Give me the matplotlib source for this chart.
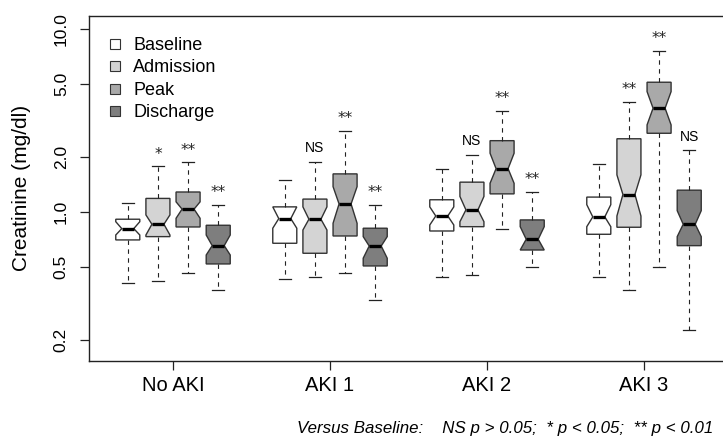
import numpy as np
import matplotlib.pyplot as plt
from matplotlib.lines import Line2D

plt.rcParams['font.family'] = ['Liberation Sans', 'DejaVu Sans']

groups = ["No AKI", "AKI 1", "AKI 2", "AKI 3"]
series = ["Baseline", "Admission", "Peak", "Discharge"]
fills = ["#ffffff", "#d4d4d4", "#a9a9a9", "#7e7e7e"]

# rows = groups, columns = series, creatinine in mg/dl
whishi = [[1.13, 1.78, 1.87, 1.10],
          [1.50, 1.89, 2.79, 1.10],
          [1.72, 2.06, 3.58, 1.29],
          [1.84, 4.01, 7.64, 2.18]]
q3 = [[0.916, 1.19, 1.29, 0.849],
      [1.07, 1.18, 1.62, 0.818],
      [1.17, 1.46, 2.46, 0.908],
      [1.21, 2.52, 5.13, 1.32]]
cihi = [[0.888, 0.967, 1.14, 0.751],
        [1.07, 1.07, 1.38, 0.736],
        [1.07, 1.22, 2.10, 0.834],
        [1.10, 1.60, 4.56, 1.02]]
med = [[0.814, 0.860, 1.04, 0.657],
       [0.923, 0.916, 1.11, 0.654],
       [0.954, 1.03, 1.73, 0.712],
       [0.943, 1.25, 3.70, 0.860]]
cilo = [[0.751, 0.751, 0.927, 0.584],
        [0.818, 0.800, 0.871, 0.561],
        [0.852, 0.888, 1.44, 0.622],
        [0.834, 0.954, 3.00, 0.736]]
q1 = [[0.706, 0.736, 0.831, 0.522],
      [0.677, 0.597, 0.742, 0.509],
      [0.790, 0.834, 1.26, 0.622],
      [0.758, 0.828, 2.70, 0.657]]
whislo = [[0.409, 0.421, 0.466, 0.376],
          [0.430, 0.445, 0.468, 0.332],
          [0.443, 0.454, 0.807, 0.500],
          [0.445, 0.376, 0.504, 0.228]]

# significance versus baseline (None for the baseline box itself)
signif = [[None, "*", "**", "**"],
          [None, "NS", "**", "**"],
          [None, "NS", "**", "**"],
          [None, "**", "**", "NS"]]

yticks = [0.2, 0.5, 1.0, 2.0, 5.0, 10.0]
ytick_labels = ["0.2", "0.5", "1.0", "2.0", "5.0", "10.0"]

# ============================================================
# BUILD BOX STATS
# ============================================================

step = 0.192
stats = []
positions = []
colors = []
for g in range(len(groups)):
    for s in range(len(series)):
        stats.append(dict(med=med[g][s], q1=q1[g][s], q3=q3[g][s],
                          whislo=whislo[g][s], whishi=whishi[g][s],
                          cilo=cilo[g][s], cihi=cihi[g][s], fliers=[]))
        positions.append(g + 1 + (s - 1.5) * step)
        colors.append(fills[s])

# ============================================================
# PLOT
# ============================================================

fig = plt.figure(figsize=(7.23, 4.40), dpi=100)
ax = fig.add_axes([89 / 723, 79 / 440, 639 / 723, 345 / 440])

edge = "#333333"
bp = ax.bxp(stats, positions=positions, widths=0.153, shownotches=True,
            patch_artist=True, showfliers=False,
            boxprops=dict(edgecolor=edge, linewidth=1.0),
            medianprops=dict(color="black", linewidth=2.4,
                             solid_capstyle="butt"),
            whiskerprops=dict(color="#222222", linewidth=0.8,
                              linestyle=(0, (4, 4))),
            capprops=dict(color="#222222", linewidth=0.9))

for patch, c in zip(bp["boxes"], colors):
    patch.set_facecolor(c)

ax.set_yscale("log")
ax.set_ylim(0.154, 11.8)
ax.set_xlim(0.465, 4.535)
ax.yaxis.set_minor_locator(plt.NullLocator())
ax.set_yticks(yticks)
ax.set_yticklabels(ytick_labels, rotation=90, va="center", fontsize=12.5)
ax.set_xticks(range(1, len(groups) + 1))
ax.set_xticklabels(groups, fontsize=14.5)
ax.tick_params(axis="y", length=6.5, width=0.9, pad=8, colors="#222222",
               labelcolor="black")
ax.tick_params(axis="x", length=6.5, width=0.9, pad=4.5, colors="#222222",
               labelcolor="black")
for sp in ax.spines.values():
    sp.set_linewidth(1.0)
    sp.set_color("#222222")

fig.text(22 / 723, 1 - 188 / 440, "Creatinine (mg/dl)", rotation=90,
         ha="center", va="center", fontsize=15)

# significance labels above the upper whisker
k = 0
for g in range(len(groups)):
    for s in range(len(series)):
        lab = signif[g][s]
        if lab == "NS":
            ax.annotate(lab, (positions[k], whishi[g][s]), xytext=(0, 6.8),
                        textcoords="offset points", ha="center",
                        va="baseline", fontsize=10,
                        family=["Liberation Sans Narrow", "Liberation Sans"])
        elif lab:
            ax.annotate(lab, (positions[k], whishi[g][s]), xytext=(0, 5.6),
                        textcoords="offset points", ha="center",
                        va="baseline", fontsize=11, family="DejaVu Sans",
                        color="#222222")
        k += 1

handles = [Line2D([], [], linestyle="none", marker="s", markersize=6.5,
                  markerfacecolor=c, markeredgecolor=edge,
                  markeredgewidth=0.8) for c in fills]
ax.legend(handles, series, loc="upper left", frameon=False, fontsize=13,
          bbox_to_anchor=(106 / 723, 1 - 37 / 440),
          bbox_transform=fig.transFigure, borderpad=0, borderaxespad=0,
          handlelength=1.0, handletextpad=0.5, labelspacing=0.3)

fig.text(713 / 723, 1 - 428 / 440,
         "Versus Baseline:    NS p > 0.05;  * p < 0.05;  ** p < 0.01",
         ha="right", va="center", fontsize=12.2, style="italic")

fig.savefig("out.png", dpi=100)
